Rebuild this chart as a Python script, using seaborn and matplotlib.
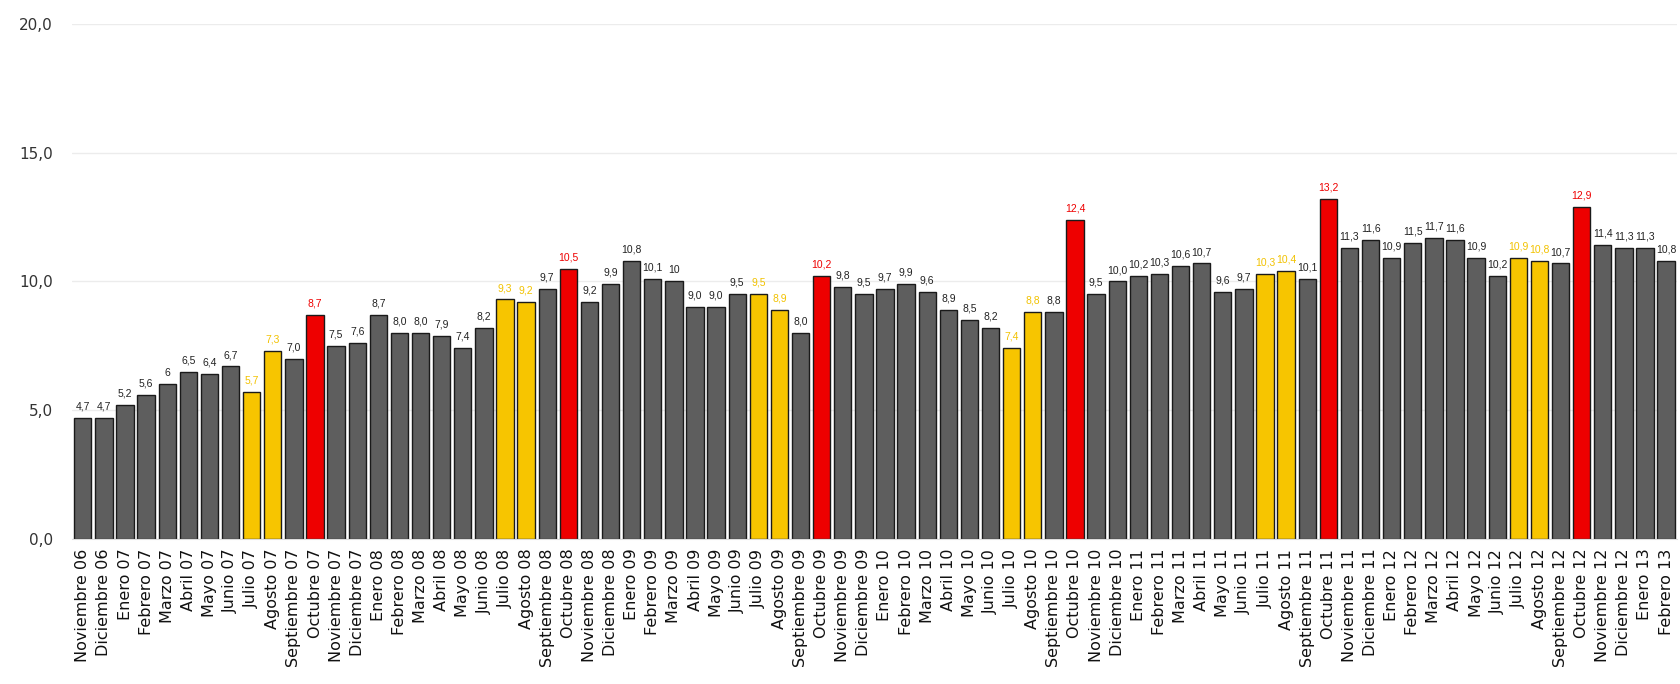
import matplotlib
matplotlib.use("Agg")
import matplotlib.pyplot as plt
import seaborn as sns
import pandas as pd

# months shown on the x axis
months = [
    "Noviembre 06", "Diciembre 06",
    "Enero 07", "Febrero 07", "Marzo 07", "Abril 07", "Mayo 07", "Junio 07",
    "Julio 07", "Agosto 07", "Septiembre 07", "Octubre 07", "Noviembre 07", "Diciembre 07",
    "Enero 08", "Febrero 08", "Marzo 08", "Abril 08", "Mayo 08", "Junio 08",
    "Julio 08", "Agosto 08", "Septiembre 08", "Octubre 08", "Noviembre 08", "Diciembre 08",
    "Enero 09", "Febrero 09", "Marzo 09", "Abril 09", "Mayo 09", "Junio 09",
    "Julio 09", "Agosto 09", "Septiembre 09", "Octubre 09", "Noviembre 09", "Diciembre 09",
    "Enero 10", "Febrero 10", "Marzo 10", "Abril 10", "Mayo 10", "Junio 10",
    "Julio 10", "Agosto 10", "Septiembre 10", "Octubre 10", "Noviembre 10", "Diciembre 10",
    "Enero 11", "Febrero 11", "Marzo 11", "Abril 11", "Mayo 11", "Junio 11",
    "Julio 11", "Agosto 11", "Septiembre 11", "Octubre 11", "Noviembre 11", "Diciembre 11",
    "Enero 12", "Febrero 12", "Marzo 12", "Abril 12", "Mayo 12", "Junio 12",
    "Julio 12", "Agosto 12", "Septiembre 12", "Octubre 12", "Noviembre 12", "Diciembre 12",
    "Enero 13", "Febrero 13",
]

values = [
    4.7, 4.7,
    5.2, 5.6, 6.0, 6.5, 6.4, 6.7, 5.7, 7.3, 7.0, 8.7, 7.5, 7.6,
    8.7, 8.0, 8.0, 7.9, 7.4, 8.2, 9.3, 9.2, 9.7, 10.5, 9.2, 9.9,
    10.8, 10.1, 10.0, 9.0, 9.0, 9.5, 9.5, 8.9, 8.0, 10.2, 9.8, 9.5,
    9.7, 9.9, 9.6, 8.9, 8.5, 8.2, 7.4, 8.8, 8.8, 12.4, 9.5, 10.0,
    10.2, 10.3, 10.6, 10.7, 9.6, 9.7, 10.3, 10.4, 10.1, 13.2, 11.3, 11.6,
    10.9, 11.5, 11.7, 11.6, 10.9, 10.2, 10.9, 10.8, 10.7, 12.9, 11.4, 11.3,
    11.3, 10.8,
]

# summer months in yellow, october peaks in red
def month_kind(m):
    if m.startswith("Julio") or m.startswith("Agosto"):
        return "verano"
    if m.startswith("Octubre"):
        return "octubre"
    return "normal"

kinds = [month_kind(m) for m in months]
palette = {"normal": "#5e5e5e", "verano": "#f7c500", "octubre": "#ee0000"}
text_colors = {"normal": "#222222", "verano": "#f2c200", "octubre": "#ee0000"}

labels = [f"{v:.1f}".replace(".", ",") for v in values]
labels[4] = "6"
labels[28] = "10"

df = pd.DataFrame({"mes": months, "valor": values, "tipo": kinds})

sns.set_style("white")
plt.rcParams["font.family"] = ["DejaVu Sans"]

fig = plt.figure(figsize=(16.8, 6.84), dpi=100)
ax = fig.add_axes([0.043, 0.212, 0.955, 0.753])

sns.barplot(data=df, x="mes", y="valor", hue="tipo", palette=palette,
            dodge=False, legend=False, width=0.82, saturation=1,
            edgecolor="#1a1a1a", linewidth=1.0, ax=ax)

for i, (v, lab, k) in enumerate(zip(values, labels, kinds)):
    ax.text(i, v + 0.25, lab, ha="center", va="bottom", fontsize=7.5,
            family="Liberation Sans", color=text_colors[k])

ax.set_ylim(0, 20)
ax.set_xlim(-0.5, len(months) - 0.5)
ax.set_yticks([0, 5, 10, 15, 20])
ax.set_yticklabels(["0,0", "5,0", "10,0", "15,0", "20,0"], fontsize=11, color="#333333")
ax.yaxis.grid(True, color="#ececec", linewidth=1)
ax.set_axisbelow(True)
ax.tick_params(axis="y", length=0, pad=14)
ax.tick_params(axis="x", length=3, color="#cccccc", pad=4)
ax.set_xticks(range(len(months)))
ax.set_xticklabels(months, rotation=90, fontsize=11.5, color="#111111")
ax.set_xlabel("")
ax.set_ylabel("")
for s in ["top", "right", "left"]:
    ax.spines[s].set_visible(False)
ax.spines["bottom"].set_color("#dddddd")

fig.savefig("out.png", dpi=100)
plt.close(fig)
